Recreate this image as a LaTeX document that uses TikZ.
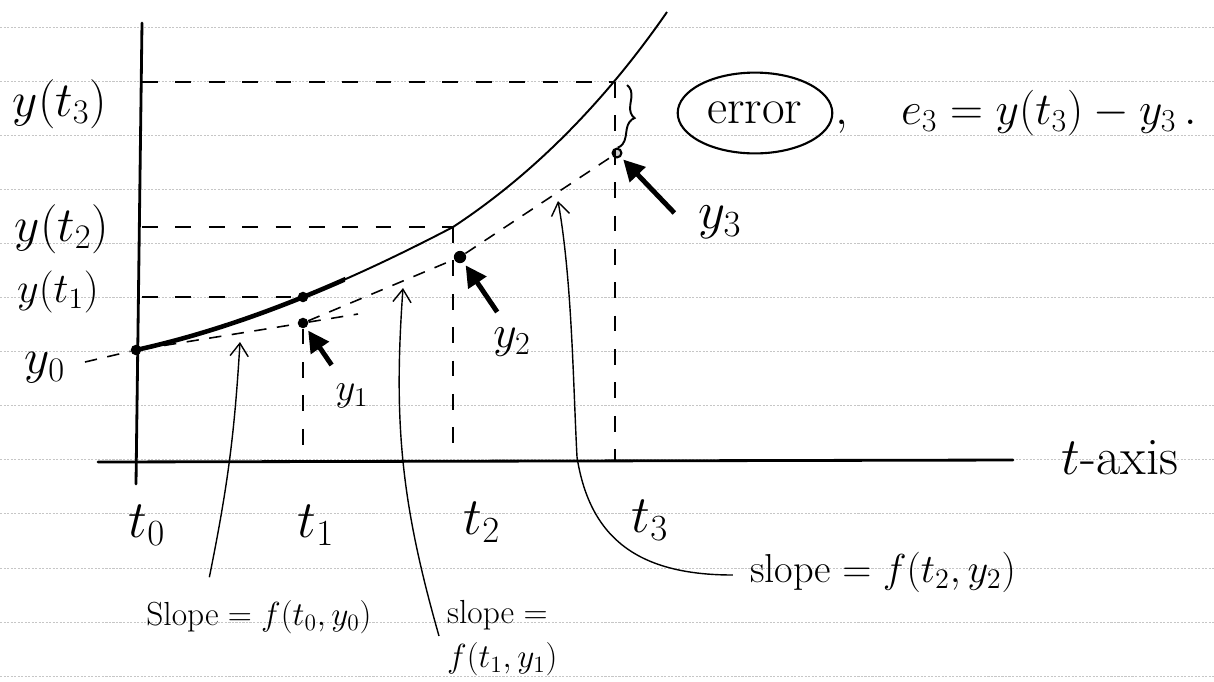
\RequirePackage{fix-cm}
\documentclass[tikz,border=0pt]{standalone}
\usepackage{tikz}
\usetikzlibrary{arrows.meta,positioning,calc,shapes.geometric,decorations.pathreplacing}

\begin{document}
\begin{tikzpicture}[x=0.02cm, y=-0.02cm,
    ruled/.style={gray!45, line width=0.5pt, dash pattern=on 1.2pt off 0.8pt},
    axis/.style={line width=1.6pt, line cap=round},
    guide/.style={line width=0.9pt, dash pattern=on 9pt off 10pt},
    euler/.style={line width=0.9pt, dash pattern=on 7pt off 6pt},
    dot/.style={circle, fill=black, inner sep=0pt, minimum size=6pt},
    pointer/.style={line width=0.8pt, -{Straight Barb[angle=70:9pt]}},
    fat/.style={line width=2.8pt, -{Triangle[length=12pt, width=12pt]}, shorten >=2pt},
    lab/.style={inner sep=1pt, font=\fontsize{#1}{#1}\selectfont}
]
\useasboundingbox (0,0) rectangle (1214,681);

% Linien des Papiers
\foreach \k in {0,...,12}
    \draw[ruled] (0,{27+54.1*\k}) -- (1214,{27+54.1*\k});

% Achsen
\coordinate (ytop) at (142,23);
\coordinate (ybot) at (136,484);
\coordinate (tleft) at (98,462);
\coordinate (tright) at (1013,460);
\draw[axis] (ybot) -- (ytop);
\draw[axis] (tleft) -- (tright);
\node[lab=30] (taxis) at (1120,458) {$t$-axis};

% exakte Loesung
\draw[line width=1.1pt] (136,350) .. controls (241,327) and (348,282) .. (453,227)
    .. controls (523,181) and (597,113) .. (667,12);
\begin{scope}
    \clip (130,0) rectangle (345,681);
    \draw[line width=2.6pt] (136,350) .. controls (241,327) and (348,282) .. (453,227);
\end{scope}

% Punkte
\coordinate (c3) at (615,82);
\coordinate (c2) at (453,227);
\node[dot] (c1) at (303,297) {};
\node[dot] (p0) at (136,350) {};
\node[dot] (p1) at (303,323) {};
\node[dot, minimum size=7pt] (p2) at (460,257) {};
\node[circle, draw, line width=1.2pt, fill=gray!40, inner sep=0pt, minimum size=5pt] (p3) at (617,153) {};

% Hilfslinien
\draw[guide] (c3 -| ytop) -- (c3);
\draw[guide] (c2 -| ytop) -- (c2);
\draw[guide] (c1 -| ytop) -- (c1);
\draw[guide] (c3) -- (c3 |- tleft);
\draw[guide] (c2) -- (c2 |- tleft);
\draw[guide] (p1) -- (p1 |- tleft);

% Euler-Schritte
\coordinate (e0) at (85,362);
\coordinate (e1) at (358,314);
\draw[euler] (e0) -- (p0) -- (p1) -- (p2) -- (p3);
\draw[euler] (p1) -- (e1);

% Beschriftung der y-Achse
\node[lab=28] (ly3) at (60,104) {$y(t_3)$};
\node[lab=28] (ly2) at (62,229) {$y(t_2)$};
\node[lab=24] (ly1) at (58,292) {$y(t_1)$};
\node[lab=28] (ly0) at (45,368) {$y_0$};

% Beschriftung der t-Achse
\node[lab=30] (lt0) at (147,525) {$t_0$};
\node[lab=30] (lt1) at (316,525) {$t_1$};
\node[lab=30] (lt2) at (482,522) {$t_2$};
\node[lab=30] (lt3) at (650,520) {$t_3$};

% Naeherungswerte
\node[lab=22] (ly1n) at (352,396) {$y_1$};
\node[lab=26] (ly2n) at (512,342) {$y_2$};
\node[lab=30] (ly3n) at (720,222) {$y_3$};
\draw[fat] ($(ly1n.west)+(-2,-31)$) -- (p1);
\draw[fat] ($(ly2n.west)+(6,-30)$) -- (p2);
\draw[fat] ($(ly3n.west)+(-22,-9)$) -- (p3);

% Fehler
\draw[line width=1.1pt, decorate, decoration={brace, amplitude=7pt}]
    ([shift={(12,3)}]c3) -- ([shift={(18,-6)}]p3);
\node[ellipse, draw, line width=1.2pt, minimum width=88pt, minimum height=46pt, lab=28]
    (err) at (755,113) {error};
\node[lab=26, anchor=west] (e3) at (err.east) {$,\quad e_3=y(t_3)-y_3\,.$};

% Steigungen
\node[lab=19] (s0) at (259,617) {Slope${}=f(t_0,y_0)$};
\node[inner sep=1pt, font=\fontsize{19}{25}\selectfont, align=left, anchor=west]
    (s1) at (445,638) {slope${}={}$\\$f(t_1,y_1)$};
\node[lab=23] (s2) at (883,572) {slope${}=f(t_2,y_2)$};
\coordinate (tip0) at (240,342);
\coordinate (tip1) at (403,288);
\coordinate (tip2) at (558,201);
\draw[pointer] ($(s0.north west)+(65,-21)$) to[bend right=4] (tip0);
\draw[pointer] ($(s1.west)+(-6,-2)$) to[bend left=10] (tip1);
\draw[pointer] ($(s2.west)+(-15,3)$) .. controls (640,575) and (590,540) .. (577,457)
    .. controls (573,380) and (572,280) .. (tip2);

\end{tikzpicture}
\end{document}
